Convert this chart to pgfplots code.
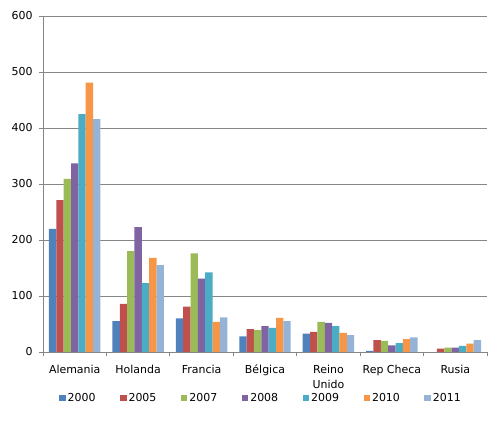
\documentclass[border=0pt]{standalone}
\usepackage{fontspec}
\setmainfont{DejaVu Sans}
\usepackage{pgfplots}
\pgfplotsset{compat=1.18}
\definecolor{c2000}{HTML}{4F81BD}
\definecolor{c2005}{HTML}{C0504D}
\definecolor{c2007}{HTML}{9BBB59}
\definecolor{c2008}{HTML}{8064A2}
\definecolor{c2009}{HTML}{4BACC6}
\definecolor{c2010}{HTML}{F79646}
\definecolor{c2011}{HTML}{95B3D7}
\definecolor{axgray}{HTML}{868686}
\newcommand\tl{\vphantom{É}}
\pgfplotsset{sq/.style={draw=none,fill=#1,legend image code/.code={\fill[#1] (0bp,-3bp) rectangle (6.5bp,3.5bp);}}}
\begin{document}
\begin{tikzpicture}
\useasboundingbox (-43bp,-70bp) rectangle (457bp,352bp);
\begin{axis}[
  at={(0,0)}, anchor=south west,
  scale only axis, width=444bp, height=336bp,
  ybar=0pt, bar width=7.35bp,
  xmin=-0.5, xmax=6.5, ymin=0, ymax=600,
  ytick={0,100,...,600},
  xtick={0,...,6},
  xticklabels={{\tl Alemania},{\tl Holanda},{\tl Francia},{\tl Bélgica},{\tl Reino\\Unido},{\tl Rep Checa},{\tl Rusia}},
  xticklabel style={align=center, font=\fontsize{11}{15.5}\selectfont},
  yticklabel style={font=\fontsize{11}{12}\selectfont, xshift=-3bp},
  /pgf/number format/assume math mode=true,
  major x tick style={draw=none},
  minor xtick={-0.5,0.5,...,6.5},
  minor tick length=4bp,
  major tick length=4bp,
  tick align=outside,
  axis x line*=bottom, axis y line*=left,
  axis line style={axgray,line width=0.8pt},
  tick style={axgray,line width=0.8pt},
  ymajorgrids, grid style={axgray,line width=0.8pt},
  xticklabel shift=3.5bp,
  legend columns=7,
  legend style={at={(axis description cs:0.491,-0.137)}, anchor=center, draw=none,
    font=\fontsize{11}{12}\selectfont,
    /tikz/every even column/.append style={column sep=22.5bp}},
  legend cell align=left,
]
\addplot[sq=c2000] coordinates {(0,220) (1,55) (2,60) (3,28) (4,33) (5,2) (6,0)};
\addplot[sq=c2005] coordinates {(0,271) (1,86) (2,81) (3,41) (4,36) (5,21) (6,6)};
\addplot[sq=c2007] coordinates {(0,309) (1,180) (2,176) (3,39) (4,54) (5,20) (6,8)};
\addplot[sq=c2008] coordinates {(0,337) (1,223) (2,131) (3,46) (4,52) (5,12) (6,8)};
\addplot[sq=c2009] coordinates {(0,425) (1,123) (2,142) (3,43) (4,46) (5,16) (6,11)};
\addplot[sq=c2010] coordinates {(0,481) (1,168) (2,54) (3,61) (4,34) (5,23) (6,15)};
\addplot[sq=c2011] coordinates {(0,416) (1,155) (2,62) (3,55) (4,30) (5,26) (6,21)};
\legend{2000,2005,2007,2008,2009,2010,2011}
\end{axis}
\end{tikzpicture}
\end{document}
